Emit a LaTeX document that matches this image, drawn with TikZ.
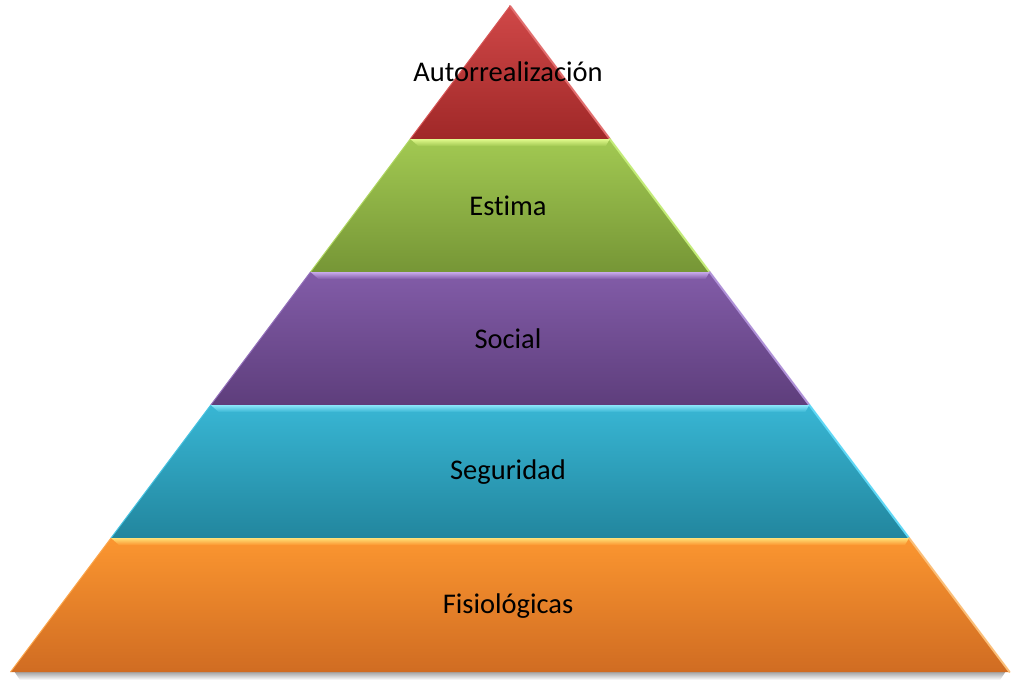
\documentclass[tikz,border=0pt]{standalone}
\usepackage{fontspec}
\setmainfont[Ligatures={NoCommon}]{Carlito}
\definecolor{rT}{RGB}{208,72,72}\definecolor{rB}{RGB}{160,40,40}\definecolor{rH}{RGB}{235,120,120}\definecolor{rE}{RGB}{225,110,110}
\definecolor{gT}{RGB}{162,201,82}\definecolor{gB}{RGB}{118,150,54}\definecolor{gH}{RGB}{225,250,140}\definecolor{gE}{RGB}{195,235,120}
\definecolor{pT}{RGB}{130,92,168}\definecolor{pB}{RGB}{94,62,124}\definecolor{pH}{RGB}{200,170,235}\definecolor{pE}{RGB}{175,145,215}
\definecolor{bT}{RGB}{56,182,212}\definecolor{bB}{RGB}{34,134,158}\definecolor{bH}{RGB}{140,230,250}\definecolor{bE}{RGB}{95,215,245}
\definecolor{oT}{RGB}{251,150,48}\definecolor{oB}{RGB}{208,108,34}\definecolor{oH}{RGB}{255,225,120}\definecolor{oE}{RGB}{250,190,120}
\begin{document}
\begin{tikzpicture}[x=1pt,y=-1pt,
  lbl/.style={font=\fontsize{28.5}{32}\selectfont, text=black, inner sep=0pt, anchor=center}]
\useasboundingbox (0,0) rectangle (1018,685);
% drop shadow
\shade[top color=black!40, bottom color=white] (14,671) -- (1006,671) -- (1000,680) -- (20,680) -- cycle;
% level macro: #1 top y, #2 bottom y, #3 top color, #4 bottom color, #5 highlight, #6 edge
\newcommand{\pylevel}[6]{%
  \pgfmathsetmacro{\wt}{0.75*(#1-6)}%
  \pgfmathsetmacro{\wb}{0.75*(#2-6)}%
  \shade[top color=#3, bottom color=#4] (510-\wt,#1) -- (510+\wt,#1) -- (510+\wb,#2) -- (510-\wb,#2) -- cycle;
  \draw[#6, line width=2pt, line cap=round] (510+\wt,#1) -- (510+\wb,#2);
  \draw[#6!40!#3, line width=1pt] (510-\wt,#1) -- (510-\wb,#2);
  \ifdim #1pt>10pt
    \shade[top color=#5, bottom color=#3] (510-\wt,#1) -- (510+\wt,#1) -- (510+\wt-4,#1+7) -- (510-\wt+8,#1+7) -- cycle;
  \fi
}
\pylevel{6}{139}{rT}{rB}{rH}{rE}
\pylevel{139}{272}{gT}{gB}{gH}{gE}
\pylevel{272}{405}{pT}{pB}{pH}{pE}
\pylevel{405}{538}{bT}{bB}{bH}{bE}
\pylevel{538}{672}{oT}{oB}{oH}{oE}
\node[lbl] (auto) at (508,72) {Autorrealización};
\node[lbl] (est) at (508,206) {Estima};
\node[lbl] (soc) at (508,339) {Social};
\node[lbl] (seg) at (508,472) {Seguridad};
\node[lbl] (fis) at (508,606) {Fisiológicas};
\end{tikzpicture}
\end{document}
